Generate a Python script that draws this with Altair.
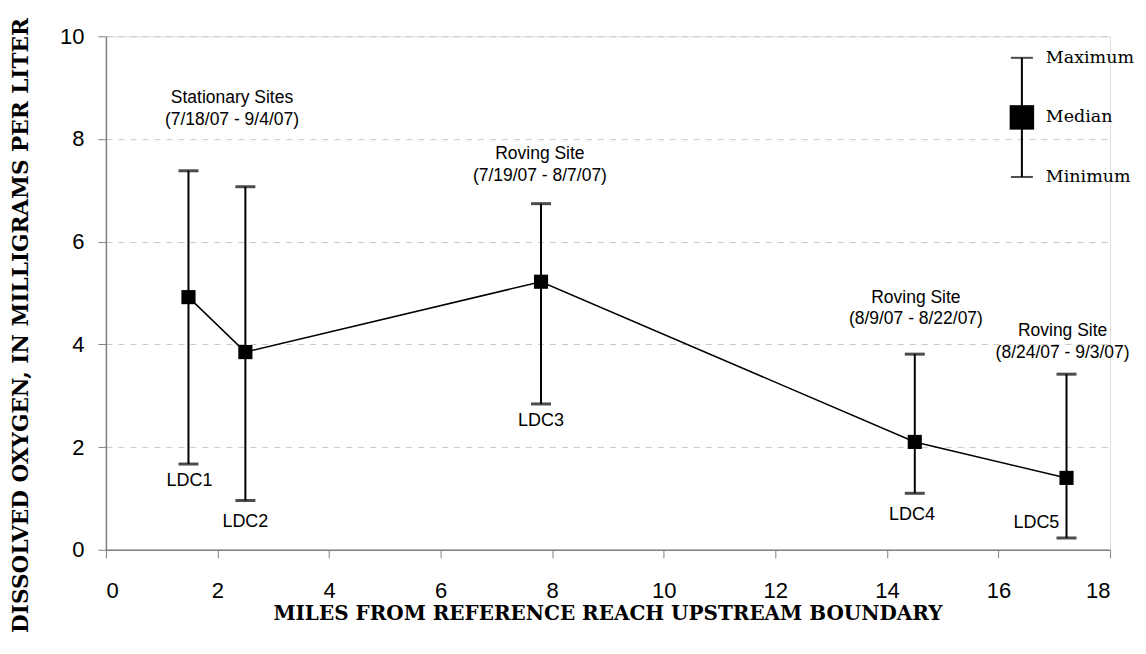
import altair as alt
import pandas as pd

sites = ["LDC1", "LDC2", "LDC3", "LDC4", "LDC5"]
miles = [1.48, 2.5, 7.8, 14.5, 17.22]
median = [4.92, 3.85, 5.22, 2.10, 1.40]
minimum = [1.67, 0.96, 2.84, 1.10, 0.23]
maximum = [7.38, 7.07, 6.74, 3.81, 3.42]

# site label positions (data coordinates)
lab_x = [1.5, 2.5, 7.8, 14.45, 16.68]
lab_y = [1.33, 0.55, 2.5, 0.68, 0.52]

# annotations
ann_text = ["Stationary Sites", "(7/18/07 - 9/4/07)",
            "Roving Site", "(7/19/07 - 8/7/07)",
            "Roving Site", "(8/9/07 - 8/22/07)",
            "Roving Site", "(8/24/07 - 9/3/07)"]
ann_x = [2.26, 2.26, 7.78, 7.78, 14.52, 14.52, 17.15, 17.15]
ann_y = [8.8, 8.37, 7.71, 7.28, 4.91, 4.49, 4.27, 3.84]

# explanation key
key_x = 16.42
key_max, key_med, key_min = 9.58, 8.42, 7.26
key_labels = ["Maximum", "Median", "Minimum"]

df = pd.DataFrame({"site": sites, "miles": miles, "median": median,
                   "min": minimum, "max": maximum})
labdf = pd.DataFrame({"site": sites, "x": lab_x, "y": lab_y})
anndf = pd.DataFrame({"t": ann_text, "x": ann_x, "y": ann_y})
keydf = pd.DataFrame({"x": [key_x], "max": [key_max], "med": [key_med], "min": [key_min]})
keylab = pd.DataFrame({"t": key_labels, "x": [key_x] * 3, "y": [key_max, key_med, key_min]})

xs = alt.Scale(domain=[0, 18], nice=False)
ys = alt.Scale(domain=[0, 10], nice=False)

xax = alt.Axis(values=list(range(0, 19, 2)), format="d", grid=False,
               title="MILES FROM REFERENCE REACH UPSTREAM BOUNDARY",
               labelFont="Liberation Sans", labelFontSize=22, labelColor="black", labelPadding=23,
               tickSize=8, tickColor="#808080", domainColor="#808080", domainWidth=1.5,
               titleFont="DejaVu Serif", titleFontWeight="bold", titleFontSize=20, titleColor="black",
               titleX=502, titleY=70, titleBaseline="alphabetic", titleAlign="center")
yax = alt.Axis(values=list(range(0, 11, 2)), format="d", grid=True, gridDash=[6, 6], gridColor="#c8c8c8",
               title="DISSOLVED OXYGEN, IN MILLIGRAMS PER LITER",
               labelFont="Liberation Sans", labelFontSize=22, labelColor="black", labelPadding=14,
               tickSize=8, tickColor="#808080", domainColor="#808080", domainWidth=1.5,
               titleFont="DejaVu Serif", titleFontWeight="bold", titleFontSize=21.6, titleColor="black",
               titleX=-78, titleY=289, titleAngle=-90, titleBaseline="alphabetic", titleAlign="center")

base = alt.Chart(df)
rules = base.mark_rule(color="black", strokeWidth=2).encode(
    x=alt.X("miles:Q", scale=xs, axis=xax), y=alt.Y("min:Q", scale=ys, axis=yax), y2="max:Q")
capmax = base.mark_tick(color="black", orient="horizontal", size=20, thickness=3).encode(
    x="miles:Q", y="max:Q")
capmin = base.mark_tick(color="black", orient="horizontal", size=20, thickness=3).encode(
    x="miles:Q", y="min:Q")
line = base.mark_line(color="black", strokeWidth=1.5).encode(x="miles:Q", y="median:Q")
pts = base.mark_square(color="black", size=200, opacity=1).encode(x="miles:Q", y="median:Q")

labs = alt.Chart(labdf).mark_text(font="Liberation Sans", fontSize=18, color="black").encode(
    x="x:Q", y="y:Q", text="site:N")
anns = alt.Chart(anndf).mark_text(font="Liberation Sans", fontSize=17.5, color="black").encode(
    x="x:Q", y="y:Q", text="t:N")

kb = alt.Chart(keydf)
krule = kb.mark_rule(color="black", strokeWidth=2).encode(x="x:Q", y="min:Q", y2="max:Q")
kcap1 = kb.mark_tick(color="black", orient="horizontal", size=22, thickness=2).encode(x="x:Q", y="max:Q")
kcap2 = kb.mark_tick(color="black", orient="horizontal", size=22, thickness=2).encode(x="x:Q", y="min:Q")
ksq = kb.mark_square(color="black", size=600, opacity=1).encode(x="x:Q", y="med:Q")
ktext = alt.Chart(keylab).mark_text(font="DejaVu Serif", fontSize=17.5, color="black", align="left", dx=24).encode(
    x="x:Q", y="y:Q", text="t:N")

chart = alt.layer(rules, capmax, capmin, line, pts, labs, anns, krule, kcap1, kcap2, ksq, ktext).properties(
    width=1005, height=514,
    autosize=alt.AutoSizeParams(type="none"),
    padding={"left": 98, "top": 28, "right": 28, "bottom": 90},
).configure_view(stroke=None).configure(background="white")

chart.save("out.html", embed_options={"renderer": "svg", "actions": False})
